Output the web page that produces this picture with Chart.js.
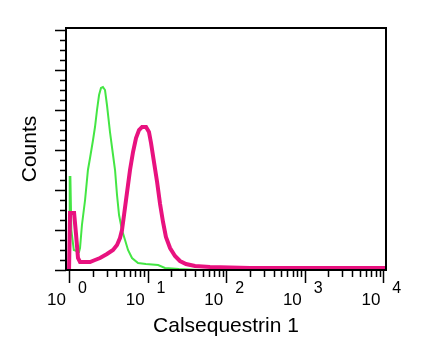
<!DOCTYPE html>
<html>
<head>
<meta charset="utf-8">
<script src="https://cdn.jsdelivr.net/npm/chart.js@4/dist/chart.umd.min.js"></script>
<style>
	html, body { margin: 0; padding: 0; background: #fff; }
	canvas { display: block; }
</style>
</head>
<body>
<canvas id="chart" width="423" height="353"></canvas>
<script>
// histogram channels (fluorescence, counts)
const green_x = [1.0, 1.02, 1.04, 1.07, 1.15, 1.34, 1.38, 1.46, 1.60, 1.74, 1.85, 2.02, 2.14, 2.27, 2.41, 2.55, 2.70, 2.87, 3.04, 3.32, 3.63, 3.85, 4.08, 4.33, 4.72, 5.16, 5.63, 6.33, 7.55, 9.5, 13.6, 16.6, 25, 46, 11000];
const green_y = [0, 93, 93, 40, 20, 18, 22, 45, 70, 100, 112, 130, 143, 160, 175, 182, 183, 180, 165, 138, 115, 100, 75, 55, 40, 30, 20, 12, 7, 6, 5, 2, 1, 0, 0];

const pink_x = [1.0, 1.03, 1.16, 1.23, 1.30, 1.38, 1.85, 2.14, 2.48, 3.04, 3.63, 4.08, 4.45, 4.72, 5.01, 5.31, 5.63, 5.97, 6.52, 7.12, 7.77, 8.49, 9.55, 10.4, 11.05, 12.05, 13.2, 14.4, 15.7, 17.1, 19.3, 22.3, 25.8, 30.8, 40.1, 62.2, 201, 11000];
const pink_y = [0, 57, 57, 35, 12, 8, 8, 10, 12, 16, 20, 25, 32, 40, 55, 70, 85, 100, 118, 132, 140, 143, 143, 138, 127, 108, 88, 66, 48, 33, 22, 14, 9, 6, 4, 3, 2, 2];

const x_decades = [0, 1, 2, 3, 4];
const x_title = 'Calsequestrin 1';
const y_title = 'Counts';

const FONT = '"Liberation Sans", Arial, sans-serif';

function to_points(xs, ys) {
	return xs.map((v, i) => ({x: v, y: ys[i]}));
}

const axis_decorations = {
	id: 'axis_decorations',
	afterDraw(chart) {
		const ctx = chart.ctx;
		const a = chart.chartArea;
		const x = chart.scales.x;
		const y = chart.scales.y;
		ctx.save();
		ctx.strokeStyle = '#000';
		ctx.lineWidth = 1.5;
		// x ticks, major at decades, minor in between
		ctx.beginPath();
		for (let d = 0; d < x_decades.length; d++) {
			let px = Math.round(x.getPixelForValue(Math.pow(10, x_decades[d]))) + 0.5;
			ctx.moveTo(px, a.bottom);
			ctx.lineTo(px, a.bottom + 13);
			if (d < x_decades.length - 1) {
				for (let m = 2; m < 10; m++) {
					let mx = Math.round(x.getPixelForValue(m * Math.pow(10, x_decades[d]))) + 0.5;
					ctx.moveTo(mx, a.bottom);
					ctx.lineTo(mx, a.bottom + 7);
				}
			}
		}
		// y ticks every 10, long every 40
		for (let v = 0; v <= 240; v += 10) {
			let py = Math.round(y.getPixelForValue(v)) + 0.5;
			ctx.moveTo(a.left, py);
			ctx.lineTo(a.left - (v % 40 == 0 ? 11 : 6), py);
		}
		ctx.stroke();
		// frame
		ctx.lineWidth = 2;
		ctx.strokeRect(a.left, a.top, a.right - a.left, a.bottom - a.top);
		// decade labels 10^n
		ctx.fillStyle = '#000';
		for (let d = 0; d < x_decades.length; d++) {
			let px = x.getPixelForValue(Math.pow(10, x_decades[d]));
			ctx.font = '17px ' + FONT;
			ctx.textAlign = 'right';
			ctx.textBaseline = 'alphabetic';
			ctx.fillText('10', px - 3, 305);
			ctx.font = '16px ' + FONT;
			ctx.textAlign = 'left';
			ctx.fillText(String(x_decades[d]), px + 9, 293);
		}
		ctx.restore();
	}
};

let chart = new Chart(
	document.getElementById('chart'), {
	type: 'line',
	data: {
		datasets: [{
			label: 'Calsequestrin 1',
			data: to_points(pink_x, pink_y),
			borderColor: '#e8127f',
			borderWidth: 4,
			pointRadius: 0,
			borderJoinStyle: 'miter',
			fill: false
		}, {
			label: 'Isotype control',
			data: to_points(green_x, green_y),
			borderColor: '#44e644',
			borderWidth: 2,
			pointRadius: 0,
			fill: false
		}]
	},
	options: {
		responsive: false,
		animation: false,
		events: [],
		layout: {
			padding: {left: 0, top: 28, right: 37, bottom: 0}
		},
		plugins: {
			legend: { display: false },
			tooltip: { enabled: false }
		},
		scales: {
			x: {
				type: 'logarithmic',
				min: 0.915,
				max: 10800,
				grid: { display: false, drawTicks: false },
				border: { display: false },
				ticks: { display: false },
				title: {
					display: true,
					text: x_title,
					color: '#000',
					font: { family: FONT, size: 21 },
					padding: { top: 0, bottom: 14 }
				},
				afterFit: (scale) => { scale.height = 83; }
			},
			y: {
				min: 0,
				max: 242,
				grid: { display: false, drawTicks: false },
				border: { display: false },
				ticks: { display: false },
				title: {
					display: true,
					text: y_title,
					color: '#000',
					font: { family: FONT, size: 21 },
					padding: { top: 18, bottom: 0 }
				},
				afterFit: (scale) => { scale.height; scale.width = 66; }
			}
		}
	},
	plugins: [axis_decorations]
});
</script>
</body>
</html>
